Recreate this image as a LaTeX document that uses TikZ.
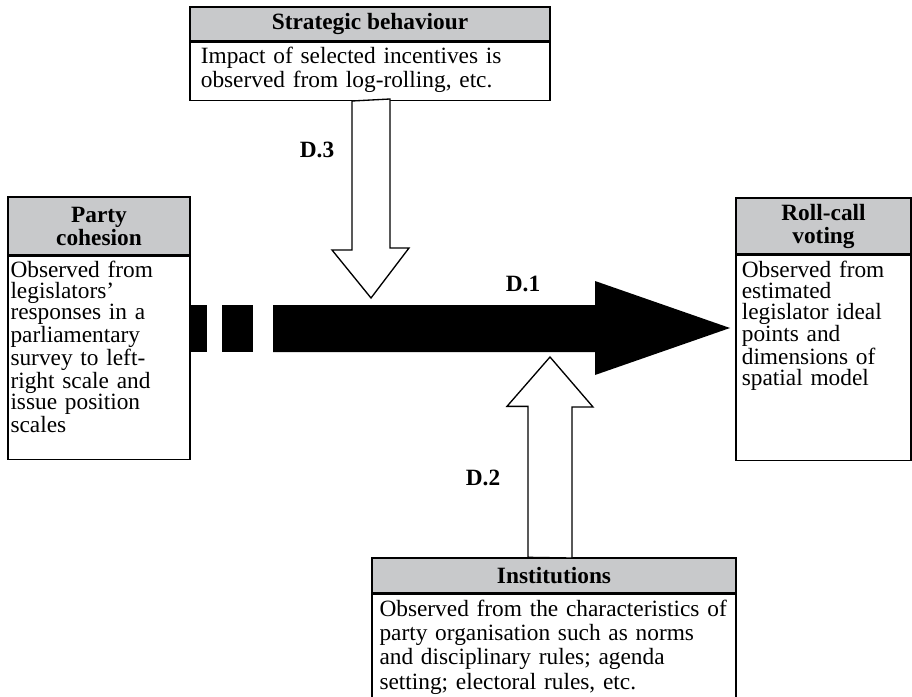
\documentclass[tikz,border=0pt]{standalone}
\usepackage{fontspec}
\setmainfont{Liberation Serif}
\usepackage{tikz}
\usetikzlibrary{positioning}
\definecolor{headgray}{RGB}{200,201,203}
\tikzset{head/.style={draw,fill=headgray,line width=0.8pt,inner sep=0pt,align=center,font=\fontsize{14}{13.8}\selectfont\bfseries},
  body/.style={draw,line width=0.8pt,inner xsep=2.5pt,inner ysep=0pt,align=left,text height=13pt},
  hollow/.style={draw,fill=white,line width=0.8pt,line join=miter},
  lab/.style={font=\fontsize{14}{14}\selectfont\bfseries}}

\begin{document}
\begin{tikzpicture}[x=0.6pt,y=-0.6pt]
        \useasboundingbox (0,0) rectangle (912,697);
        \node[head,minimum width=216pt,minimum height=20.4pt] (strathead) at (370,24) {Strategic behaviour};
        \node[body,inner xsep=6.5pt,text width=203pt,text depth=21.8pt,font=\fontsize{14}{14}\selectfont,below=0pt of strathead] (strat) {Impact of selected incentives is\\observed from log-rolling, etc.};
        \node[head,minimum width=109.2pt,minimum height=34.8pt] (partyhead) at (99,226) {Party\\cohesion};
        \node[body,inner xsep=1.5pt,text width=106.2pt,text depth=108.8pt,font=\fontsize{14}{12.6}\selectfont,below=0pt of partyhead] (party) {Observed from\\legislators'\\responses in a\\parliamentary\\survey to left-\\right scale and\\issue position\\scales};
        \node[head,minimum width=105pt,minimum height=33.6pt] (rollhead) at (823.5,226) {Roll-call\\voting};
        \node[body,inner xsep=3.5pt,text width=98pt,text depth=110pt,font=\fontsize{14}{12.6}\selectfont,below=0pt of rollhead] (roll) {Observed from\\estimated\\legislator ideal\\points and\\dimensions of\\spatial model};
        \node[head,minimum width=218.4pt,minimum height=21pt] (insthead) at (554,575.5) {Institutions};
        \node[body,inner xsep=4.5pt,text width=209.4pt,text depth=70pt,font=\fontsize{14}{14.6}\selectfont,below=0pt of insthead] (inst) {Observed from the characteristics of\\party organisation such as norms\\and disciplinary rules; agenda\\setting; electoral rules, etc.};

        \coordinate (d1tip) at (730,328);
        \coordinate (d2tip) at (550,357);
        \coordinate (d3tip) at (371,298);

        % main arrow
        \fill (189,305) rectangle (207,352);
        \fill (222,305) rectangle (253,352);
        \fill (273,305) -- (595,305) -- (595,281) -- (d1tip) -- (595,375) -- (595,352) -- (273,352) -- cycle;
        % block arrows
        \draw[hollow] (strat.south) ++(-18,0) -- ++(0,149) -- ++(-20,0) -- (d3tip) -- ++(38,-50) -- ++(-19,0) -- ++(0,-149) -- cycle;
        \draw[hollow] (insthead.north) ++(-26,0) -- ++(0,-151) -- ++(-21,0) -- (d2tip) -- ++(43,50) -- ++(-21,0) -- ++(0,151) -- cycle;

        \node[lab] (d1) at (523,284) {D.1};
        \node[lab] (d2) at (483,478) {D.2};
        \node[lab] (d3) at (317,150) {D.3};
    \end{tikzpicture}
\end{document}
